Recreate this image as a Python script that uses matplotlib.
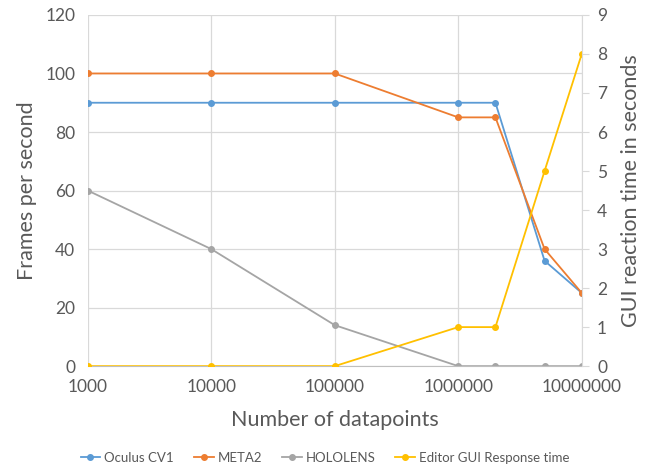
import numpy as np
import matplotlib.pyplot as plt

plt.rcParams['font.family'] = ['Lato', 'DejaVu Sans']

datapoints = [1000, 10000, 100000, 1000000, 2000000, 5000000, 10000000]
oculus = [90, 90, 90, 90, 90, 36, 25]
meta2 = [100, 100, 100, 85, 85, 40, 25]
hololens = [60, 40, 14, 0, 0, 0, 0]
gui_time = [0, 0, 0, 1, 1, 5, 8]
xticks = [1000, 10000, 100000, 1000000, 10000000]

txt = "#595959"
grid = "#D9D9D9"

fig = plt.figure(figsize=(6.5, 4.67), dpi=100)
ax = fig.add_axes([0.135, 0.216, 0.76, 0.752])
ax2 = ax.twinx()

l1, = ax.plot(datapoints, oculus, color="#5B9BD5", marker="o", ms=4, lw=1.3, label="Oculus CV1")
l2, = ax.plot(datapoints, meta2, color="#ED7D31", marker="o", ms=4, lw=1.3, label="META2")
l3, = ax.plot(datapoints, hololens, color="#A5A5A5", marker="o", ms=4, lw=1.3, label="HOLOLENS")
l4, = ax2.plot(datapoints, gui_time, color="#FFC000", marker="o", ms=4, lw=1.3, label="Editor GUI Response time")

ax.set_xscale("log")
ax.set_xlim(1000, 10000000)
ax.set_ylim(0, 120)
ax.set_yticks(range(0, 121, 20))
ax2.set_ylim(0, 9)
ax2.set_yticks(range(0, 10))
ax.set_xticks(xticks)
ax.set_xticklabels([str(v) for v in xticks])
ax.minorticks_off()

ax.grid(True, color=grid, lw=0.9)
ax.set_axisbelow(True)
for a in (ax, ax2):
    for s in a.spines.values():
        s.set_visible(False)
    a.tick_params(length=0, labelsize=12.5, colors=txt, pad=9)
ax2.spines["right"].set_visible(True)
ax2.spines["right"].set_color(grid)
ax2.tick_params(axis="y", length=5, color=grid, direction="out", pad=6)
ax.spines["bottom"].set_visible(True)
ax.spines["bottom"].set_color("#BFBFBF")

ax.set_ylabel("Frames per second", fontsize=15.5, color=txt, labelpad=6)
ax2.set_ylabel("GUI reaction time in seconds", fontsize=15.5, color=txt, labelpad=10)
ax.set_xlabel("Number of datapoints", fontsize=15.5, color=txt, labelpad=11)

fig.legend(handles=[l1, l2, l3, l4], loc="lower center", ncol=4, frameon=False,
           fontsize=9.5, labelcolor=txt, handlelength=1.5, handletextpad=0.3,
           columnspacing=1.5, bbox_to_anchor=(0.5, -0.018))

fig.savefig("out.png", dpi=100)
